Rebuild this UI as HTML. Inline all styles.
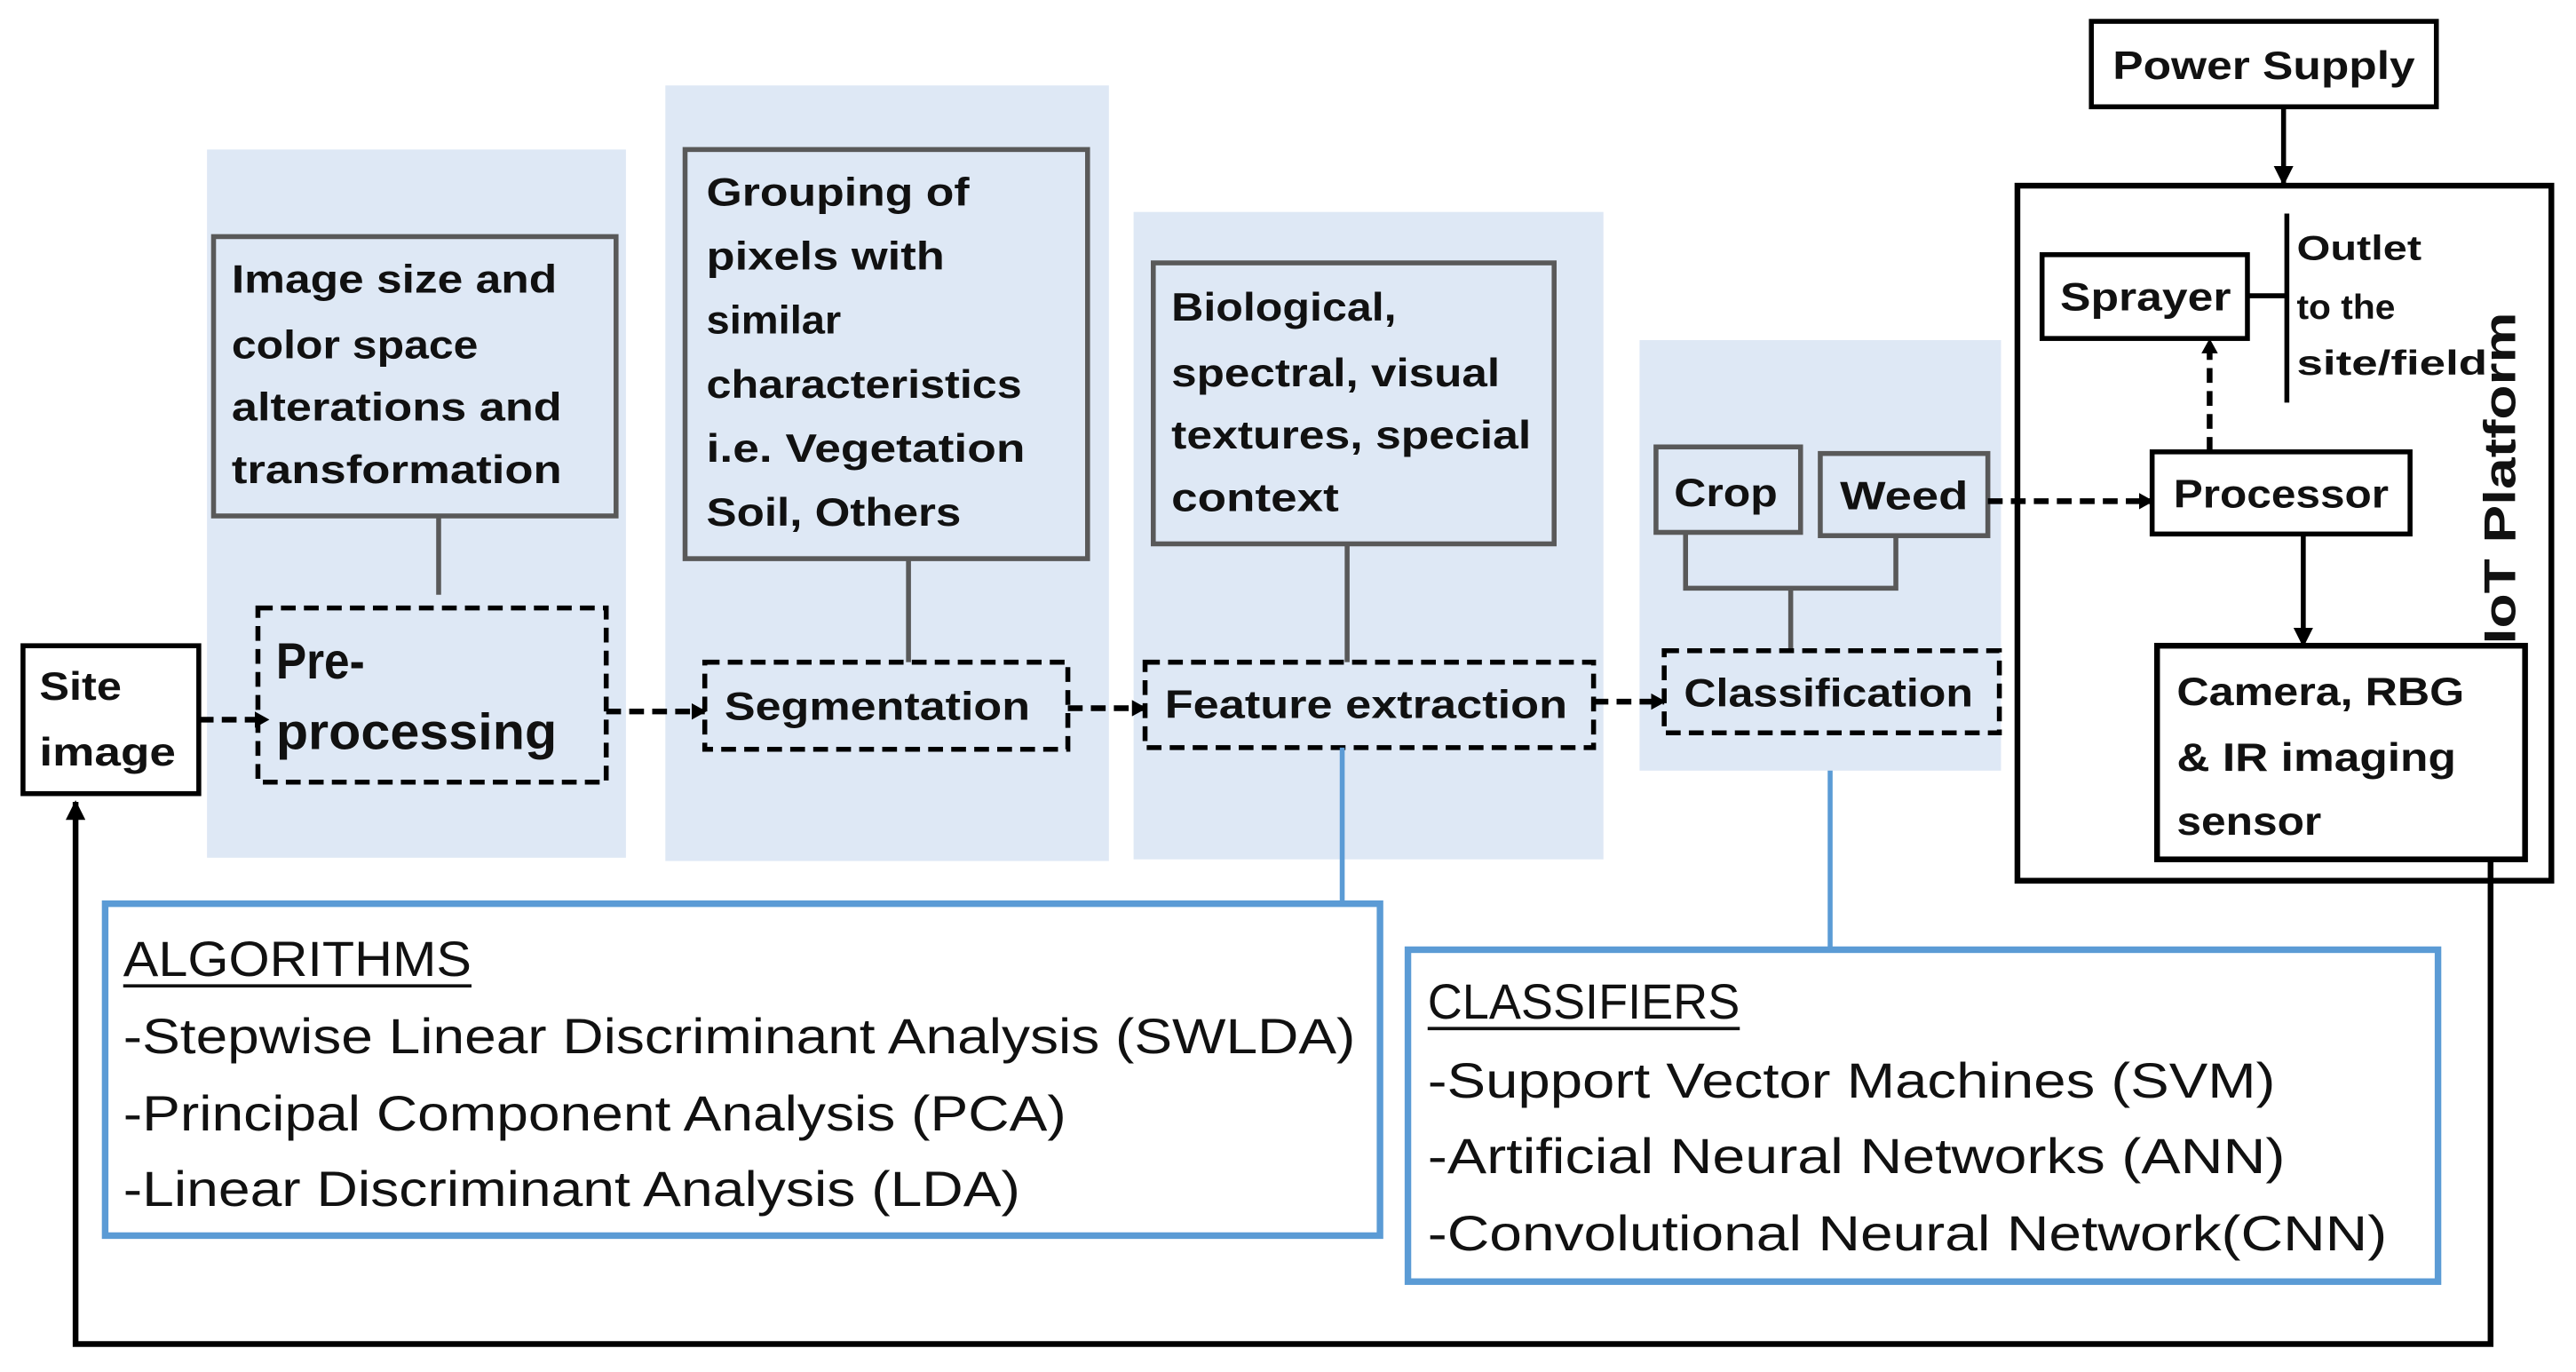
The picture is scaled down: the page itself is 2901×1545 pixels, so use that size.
<!DOCTYPE html>
<html><head><meta charset="utf-8"><style>html,body{margin:0;padding:0;background:#fff}svg{display:block}</style></head>
<body>
<svg width="2901" height="1545" viewBox="0 0 1568 835" preserveAspectRatio="none" xmlns="http://www.w3.org/2000/svg" font-family="Liberation Sans, sans-serif">
<defs>
<marker id="ah" markerWidth="9" markerHeight="10" refX="8" refY="5" orient="auto" markerUnits="userSpaceOnUse"><path d="M0,0 L9,5 L0,10 z" fill="#000"/></marker>
<marker id="ahb" markerWidth="12" markerHeight="12" refX="11" refY="6" orient="auto" markerUnits="userSpaceOnUse"><path d="M0,0 L12,6 L0,12 z" fill="#000"/></marker>
</defs>
<rect width="1568" height="835" fill="#fff"/>
<rect x="126" y="91" width="255" height="431" fill="#dee8f5"/>
<rect x="405" y="52" width="270" height="472" fill="#dee8f5"/>
<rect x="690" y="129" width="286" height="394" fill="#dee8f5"/>
<rect x="998" y="207" width="220" height="262" fill="#dee8f5"/>

<g font-weight="bold" font-size="24" fill="#111">
<rect x="14" y="393" width="107" height="90" fill="#fff" stroke="#000" stroke-width="3"/>
<text x="24" y="426" textLength="50" lengthAdjust="spacingAndGlyphs">Site</text><text x="24" y="466" textLength="83" lengthAdjust="spacingAndGlyphs">image</text>

<rect x="130" y="144" width="245" height="170" fill="none" stroke="#595959" stroke-width="3"/>
<text x="141" y="178" textLength="198" lengthAdjust="spacingAndGlyphs">Image size and</text>
<text x="141" y="218" textLength="150" lengthAdjust="spacingAndGlyphs">color space</text>
<text x="141" y="256" textLength="201" lengthAdjust="spacingAndGlyphs">alterations and</text>
<text x="141" y="294" textLength="201" lengthAdjust="spacingAndGlyphs">transformation</text>
<line x1="267" y1="314" x2="267" y2="362" stroke="#595959" stroke-width="3"/>
<rect x="157" y="370" width="212" height="106" fill="none" stroke="#000" stroke-width="3" stroke-dasharray="9,5"/>
<text x="168" y="413" font-size="31" textLength="54" lengthAdjust="spacingAndGlyphs">Pre-</text>
<text x="168" y="456" font-size="31" textLength="171" lengthAdjust="spacingAndGlyphs">processing</text>

<rect x="417" y="91" width="245" height="249" fill="none" stroke="#595959" stroke-width="3"/>
<text x="430" y="125" textLength="160" lengthAdjust="spacingAndGlyphs">Grouping of</text>
<text x="430" y="164" textLength="145" lengthAdjust="spacingAndGlyphs">pixels with</text>
<text x="430" y="203" textLength="82" lengthAdjust="spacingAndGlyphs">similar</text>
<text x="430" y="242" textLength="192" lengthAdjust="spacingAndGlyphs">characteristics</text>
<text x="430" y="281" textLength="194" lengthAdjust="spacingAndGlyphs">i.e. Vegetation</text>
<text x="430" y="320" textLength="155" lengthAdjust="spacingAndGlyphs">Soil, Others</text>
<line x1="553" y1="340" x2="553" y2="403" stroke="#595959" stroke-width="3"/>
<rect x="429" y="403" width="221" height="53" fill="none" stroke="#000" stroke-width="3" stroke-dasharray="9,5"/>
<text x="441" y="438" textLength="186" lengthAdjust="spacingAndGlyphs">Segmentation</text>

<rect x="702" y="160" width="244" height="171" fill="none" stroke="#595959" stroke-width="3"/>
<text x="713" y="195" textLength="137" lengthAdjust="spacingAndGlyphs">Biological,</text>
<text x="713" y="235" textLength="200" lengthAdjust="spacingAndGlyphs">spectral, visual</text>
<text x="713" y="273" textLength="219" lengthAdjust="spacingAndGlyphs">textures, special</text>
<text x="713" y="311" textLength="102" lengthAdjust="spacingAndGlyphs">context</text>
<line x1="820" y1="331" x2="820" y2="403" stroke="#595959" stroke-width="3"/>
<rect x="697" y="403" width="273" height="52" fill="none" stroke="#000" stroke-width="3" stroke-dasharray="9,5"/>
<text x="709" y="437" textLength="245" lengthAdjust="spacingAndGlyphs">Feature extraction</text>

<rect x="1008" y="272" width="88" height="52" fill="none" stroke="#595959" stroke-width="3"/>
<text x="1019" y="308" textLength="63" lengthAdjust="spacingAndGlyphs">Crop</text>
<rect x="1108" y="276" width="102" height="50" fill="none" stroke="#595959" stroke-width="3"/>
<text x="1120" y="310" textLength="78" lengthAdjust="spacingAndGlyphs">Weed</text>
<polyline points="1026,324 1026,358 1154,358 1154,326" fill="none" stroke="#595959" stroke-width="3"/>
<line x1="1090" y1="358" x2="1090" y2="396" stroke="#595959" stroke-width="3"/>
<rect x="1013" y="396" width="204" height="50" fill="none" stroke="#000" stroke-width="3" stroke-dasharray="9,5"/>
<text x="1025" y="430" textLength="176" lengthAdjust="spacingAndGlyphs">Classification</text>

<line x1="121" y1="438" x2="163" y2="438" stroke="#000" stroke-width="3.5" stroke-dasharray="9,5" marker-end="url(#ah)"/>
<line x1="369" y1="433" x2="429" y2="433" stroke="#000" stroke-width="3.5" stroke-dasharray="9,5" marker-end="url(#ah)"/>
<line x1="650" y1="431" x2="697" y2="431" stroke="#000" stroke-width="3.5" stroke-dasharray="9,5" marker-end="url(#ah)"/>
<line x1="970" y1="427" x2="1013" y2="427" stroke="#000" stroke-width="3.5" stroke-dasharray="9,5" marker-end="url(#ah)"/>

<rect x="1273" y="13" width="210" height="52" fill="#fff" stroke="#000" stroke-width="3"/>
<text x="1286" y="48" textLength="184" lengthAdjust="spacingAndGlyphs">Power Supply</text>
<line x1="1390" y1="65" x2="1390" y2="112" stroke="#000" stroke-width="3" marker-end="url(#ahb)"/>
<rect x="1228" y="113" width="325" height="423" fill="none" stroke="#000" stroke-width="3.5"/>
<rect x="1243" y="155" width="125" height="51" fill="#fff" stroke="#000" stroke-width="3"/>
<text x="1254" y="189" textLength="104" lengthAdjust="spacingAndGlyphs">Sprayer</text>
<line x1="1368" y1="180" x2="1392" y2="180" stroke="#000" stroke-width="3"/>
<line x1="1392" y1="130" x2="1392" y2="245" stroke="#000" stroke-width="3"/>
<text x="1398" y="158" font-size="21" textLength="76" lengthAdjust="spacingAndGlyphs">Outlet</text>
<text x="1398" y="194" font-size="21" textLength="60" lengthAdjust="spacingAndGlyphs">to the</text>
<text x="1398" y="228" font-size="21" textLength="116" lengthAdjust="spacingAndGlyphs">site/field</text>
<text transform="translate(1531,392) rotate(-90)" font-size="27" textLength="202" lengthAdjust="spacingAndGlyphs">IoT Platform</text>
<rect x="1310" y="275" width="157" height="50" fill="#fff" stroke="#000" stroke-width="3"/>
<text x="1323" y="309" textLength="131" lengthAdjust="spacingAndGlyphs">Processor</text>
<line x1="1210" y1="305" x2="1310" y2="305" stroke="#000" stroke-width="3.5" stroke-dasharray="9,5" marker-end="url(#ah)"/>
<line x1="1345" y1="275" x2="1345" y2="207" stroke="#000" stroke-width="3.5" stroke-dasharray="9,5" marker-end="url(#ah)"/>
<line x1="1402" y1="325" x2="1402" y2="393" stroke="#000" stroke-width="3" marker-end="url(#ahb)"/>
<rect x="1313" y="393" width="224" height="130" fill="#fff" stroke="#000" stroke-width="3.5"/>
<text x="1325" y="429" textLength="175" lengthAdjust="spacingAndGlyphs">Camera, RBG</text>
<text x="1325" y="469" textLength="170" lengthAdjust="spacingAndGlyphs">&amp; IR imaging</text>
<text x="1325" y="508" textLength="88" lengthAdjust="spacingAndGlyphs">sensor</text>
</g>

<polyline points="1516,523 1516,818 46,818 46,488" fill="none" stroke="#000" stroke-width="3.5" marker-end="url(#ahb)"/>

<line x1="817" y1="455" x2="817" y2="550" stroke="#5b9bd5" stroke-width="3"/>
<line x1="1114" y1="469" x2="1114" y2="578" stroke="#5b9bd5" stroke-width="3"/>
<rect x="64" y="550" width="776" height="202" fill="#fff" stroke="#5b9bd5" stroke-width="4"/>
<rect x="857" y="578" width="627" height="202" fill="#fff" stroke="#5b9bd5" stroke-width="4"/>
<g font-size="30" fill="#111">
<text x="75" y="594" textLength="212" lengthAdjust="spacingAndGlyphs">ALGORITHMS</text>
<line x1="75" y1="600" x2="287" y2="600" stroke="#111" stroke-width="2"/>
<text x="75" y="641" textLength="750" lengthAdjust="spacingAndGlyphs">-Stepwise Linear Discriminant Analysis (SWLDA)</text>
<text x="75" y="688" textLength="574" lengthAdjust="spacingAndGlyphs">-Principal Component Analysis (PCA)</text>
<text x="75" y="734" textLength="546" lengthAdjust="spacingAndGlyphs">-Linear Discriminant Analysis (LDA)</text>
<text x="869" y="620" textLength="190" lengthAdjust="spacingAndGlyphs">CLASSIFIERS</text>
<line x1="869" y1="626" x2="1059" y2="626" stroke="#111" stroke-width="2"/>
<text x="869" y="668" textLength="516" lengthAdjust="spacingAndGlyphs">-Support Vector Machines (SVM)</text>
<text x="869" y="714" textLength="522" lengthAdjust="spacingAndGlyphs">-Artificial Neural Networks (ANN)</text>
<text x="869" y="761" textLength="584" lengthAdjust="spacingAndGlyphs">-Convolutional Neural Network(CNN)</text>
</g>
</svg>
</body></html>
